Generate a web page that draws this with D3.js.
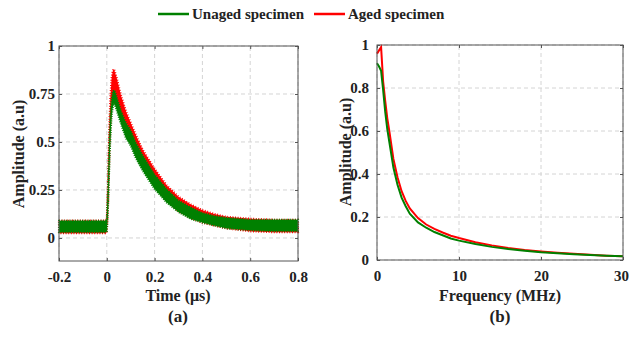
<!DOCTYPE html>
<html>
<head>
<meta charset="utf-8">
<script src="https://cdn.jsdelivr.net/npm/d3@7"></script>
<style>
  body { margin: 0; background: #fff; }
</style>
</head>
<body>
<div id="container"></div>
<script>
// ---- data ----
// (a) time signal, noisy band: lower / upper edge of each trace
let time = [-0.2, -0.15, -0.1, -0.05, -0.005, 0, 0.005, 0.01, 0.015, 0.02, 0.025, 0.03, 0.035, 0.04,
            0.05, 0.06, 0.08, 0.1, 0.12, 0.15, 0.2, 0.25, 0.3, 0.35, 0.4, 0.45, 0.5, 0.6, 0.7, 0.8];
let unagedLow  = [0.03, 0.03, 0.03, 0.03, 0.03, 0.035, 0.15, 0.35, 0.52, 0.63, 0.68, 0.70, 0.69, 0.67,
                  0.63, 0.59, 0.52, 0.48, 0.42, 0.35, 0.255, 0.185, 0.135, 0.10, 0.08, 0.065, 0.05, 0.04, 0.035, 0.035];
let unagedHigh = [0.09, 0.09, 0.09, 0.09, 0.09, 0.095, 0.25, 0.48, 0.64, 0.72, 0.76, 0.77, 0.76, 0.74,
                  0.70, 0.66, 0.60, 0.56, 0.50, 0.43, 0.33, 0.255, 0.195, 0.16, 0.13, 0.115, 0.105, 0.095, 0.095, 0.095];
let agedLow    = [0.025, 0.025, 0.025, 0.025, 0.025, 0.03, 0.17, 0.40, 0.60, 0.70, 0.74, 0.76, 0.75, 0.73,
                  0.68, 0.63, 0.56, 0.51, 0.45, 0.37, 0.27, 0.195, 0.14, 0.105, 0.08, 0.065, 0.05, 0.035, 0.03, 0.03];
let agedHigh   = [0.09, 0.09, 0.09, 0.09, 0.09, 0.095, 0.28, 0.55, 0.73, 0.83, 0.87, 0.88, 0.86, 0.84,
                  0.79, 0.74, 0.66, 0.60, 0.54, 0.46, 0.36, 0.275, 0.215, 0.175, 0.145, 0.125, 0.11, 0.10, 0.095, 0.095];

// (b) spectrum
let freq = [0, 0.25, 0.5, 0.75, 1, 1.25, 1.5, 2, 2.5, 3, 3.5, 4, 5, 6, 7, 8, 9, 10,
            12, 14, 16, 18, 20, 22, 24, 26, 28, 30];
let agedSpec   = [0.96, 0.975, 0.99, 0.83, 0.74, 0.66, 0.60, 0.47, 0.385, 0.32, 0.275, 0.24, 0.195, 0.165,
                  0.145, 0.128, 0.113, 0.102, 0.083, 0.068, 0.056, 0.047, 0.040, 0.034, 0.029, 0.024, 0.02, 0.017];
let unagedSpec = [0.915, 0.90, 0.88, 0.79, 0.69, 0.61, 0.55, 0.43, 0.35, 0.29, 0.25, 0.215, 0.175, 0.15,
                  0.13, 0.115, 0.10, 0.09, 0.074, 0.061, 0.051, 0.043, 0.036, 0.031, 0.027, 0.023, 0.02, 0.017];

let timeTicks = [-0.2, 0, 0.2, 0.4, 0.6, 0.8];
let ampTicksA = [0, 0.25, 0.5, 0.75, 1];
let freqTicks = [0, 10, 20, 30];
let ampTicksB = [0, 0.2, 0.4, 0.6, 0.8, 1];

let seriesNames = ["Unaged specimen", "Aged specimen"];
let green = "#008000";
let red = "#ff0000";
let serif = "'Liberation Serif'";

let w = 629;
let h = 339;
let viz = d3.select("#container")
  .append("svg")
    .attr("width", w)
    .attr("height", h)
;

// ---- scales ----
let xA = d3.scaleLinear().domain([-0.2, 0.8]).range([59, 298]);
let yA = d3.scaleLinear().domain([-0.12, 1]).range([261, 46]);
let xB = d3.scaleLinear().domain([0, 30]).range([377, 623]);
let yB = d3.scaleLinear().domain([0, 1]).range([260, 45]);

// plain hyphen minus like the original
function fmt(d){ return String(d); }

function drawFrame(x, y, xticks, yticks, labelGap){
  let x0 = x.range()[0], x1 = x.range()[1];
  let y0 = y.range()[0], y1 = y.range()[1];

  // dashed grid
  viz.append("g").selectAll("line").data(xticks).enter().append("line")
    .attr("x1", x).attr("x2", x).attr("y1", y0).attr("y2", y1)
    .attr("stroke", "#d4d4d4").attr("stroke-dasharray", "4,3");
  viz.append("g").selectAll("line").data(yticks).enter().append("line")
    .attr("x1", x0).attr("x2", x1).attr("y1", y).attr("y2", y)
    .attr("stroke", "#d4d4d4").attr("stroke-dasharray", "4,3");

  // axes with inward ticks on all four sides
  let axes = [];
  axes.push(viz.append("g").attr("transform", "translate(0," + y0 + ")")
    .call(d3.axisBottom(x).tickValues(xticks).tickSize(-3).tickFormat(fmt).tickPadding(10)));
  axes.push(viz.append("g").attr("transform", "translate(0," + y1 + ")")
    .call(d3.axisTop(x).tickValues(xticks).tickSize(-3).tickFormat("")));
  axes.push(viz.append("g").attr("transform", "translate(" + x0 + ",0)")
    .call(d3.axisLeft(y).tickValues(yticks).tickSize(-3).tickFormat(fmt).tickPadding(labelGap)));
  axes.push(viz.append("g").attr("transform", "translate(" + x1 + ",0)")
    .call(d3.axisRight(y).tickValues(yticks).tickSize(-3).tickFormat("")));

  axes.forEach(function(a){
    a.select(".domain").attr("stroke", "none");
    a.selectAll(".tick line").attr("stroke", "#555");
    a.selectAll(".tick text").attr("fill", "#222")
      .style("font-family", serif).style("font-weight", "bold").style("font-size", "15px");
  });
  return axes;
}

function drawBox(x, y){
  viz.append("rect")
    .attr("x", x.range()[0]).attr("y", y.range()[1])
    .attr("width", x.range()[1] - x.range()[0])
    .attr("height", y.range()[0] - y.range()[1])
    .attr("fill", "none").attr("stroke", "#555").attr("stroke-width", 1);
}

// ---- (a) time domain ----
drawFrame(xA, yA, timeTicks, ampTicksA, 4);

let bandA = d3.area()
  .x(function(d){ return xA(d.t); })
  .y0(function(d){ return yA(d.lo); })
  .y1(function(d){ return yA(d.hi); });

let agedBand = time.map(function(t, i){ return {t: t, lo: agedLow[i], hi: agedHigh[i]}; });
let unagedBand = time.map(function(t, i){ return {t: t, lo: unagedLow[i], hi: unagedHigh[i]}; });

// fill + a dotted outline gives the ragged, noisy edge
viz.append("path").datum(agedBand).attr("d", bandA)
  .attr("fill", red).attr("stroke", red).attr("stroke-width", 2.2)
  .attr("stroke-dasharray", "1,1.6");
viz.append("path").datum(unagedBand).attr("d", bandA)
  .attr("fill", green).attr("stroke", green).attr("stroke-width", 2)
  .attr("stroke-dasharray", "1,1.3");
drawBox(xA, yA);

// ---- (b) frequency domain ----
let axesB = drawFrame(xB, yB, freqTicks, ampTicksB, 8);
// last tick label sits at the window edge
axesB[0].selectAll(".tick text").filter(function(d){ return d === 30; }).attr("dx", -2);

let lineB = d3.line()
  .x(function(d){ return xB(d.f); })
  .y(function(d){ return yB(d.a); });

viz.append("path").datum(freq.map(function(f, i){ return {f: f, a: agedSpec[i]}; }))
  .attr("d", lineB).attr("fill", "none").attr("stroke", red).attr("stroke-width", 2);
viz.append("path").datum(freq.map(function(f, i){ return {f: f, a: unagedSpec[i]}; }))
  .attr("d", lineB).attr("fill", "none").attr("stroke", green).attr("stroke-width", 2);
drawBox(xB, yB);

// ---- labels ----
function label(x, y, size, txt, rot){
  return viz.append("text")
    .attr("transform", "translate(" + x + "," + y + ")" + (rot ? " rotate(-90)" : ""))
    .attr("text-anchor", "middle").attr("fill", "#222")
    .style("font-family", serif).style("font-weight", "bold").style("font-size", size + "px")
    .text(txt);
}
label(178, 301, 16, "Time (μs)");
label(500, 301, 16, "Frequency (MHz)");
label(178, 322, 17, "(a)");
label(500, 322, 17, "(b)");
label(24, 154, 16, "Amplitude (a.u)", true);
label(351, 152, 16, "Amplitude (a.u)", true);

// ---- legend ----
let legendX = [158, 314];
let legendColors = [green, red];
let legend = viz.selectAll(".legend").data(seriesNames).enter().append("g")
  .attr("transform", function(d, i){ return "translate(" + legendX[i] + ",14)"; });
legend.append("line").attr("x1", 0).attr("x2", 31).attr("y1", 0).attr("y2", 0)
  .attr("stroke", function(d, i){ return legendColors[i]; }).attr("stroke-width", 2.5);
legend.append("text").attr("x", 34).attr("y", 5).attr("fill", "#222")
  .style("font-family", serif).style("font-weight", "bold").style("font-size", "15px")
  .text(function(d){ return d; });
</script>
</body>
</html>
